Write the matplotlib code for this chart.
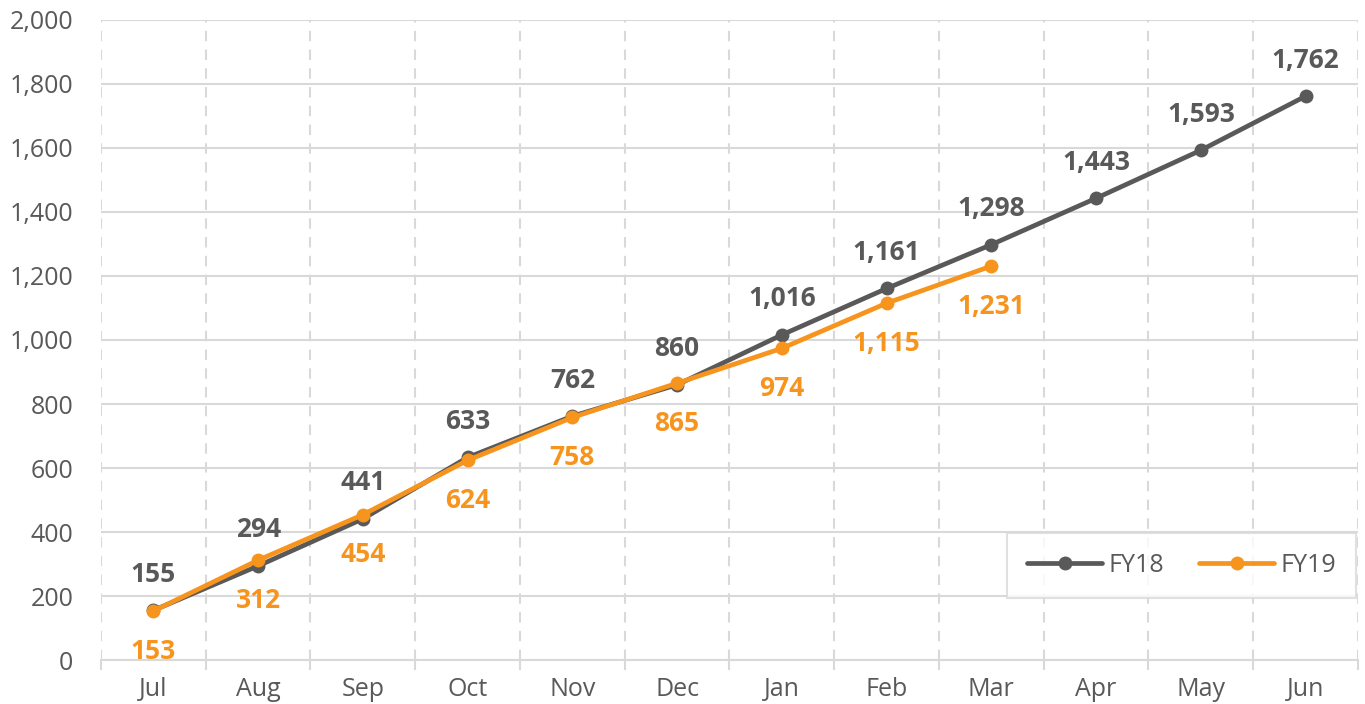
import matplotlib.pyplot as plt
import numpy as np
from matplotlib.ticker import FuncFormatter, MultipleLocator

months = ["Jul", "Aug", "Sep", "Oct", "Nov", "Dec", "Jan", "Feb", "Mar", "Apr", "May", "Jun"]
fy18 = [155, 294, 441, 633, 762, 860, 1016, 1161, 1298, 1443, 1593, 1762]
fy19 = [153, 312, 454, 624, 758, 865, 974, 1115, 1231]

grey = "#595959"
orange = "#F7941D"
grid_col = "#D9D9D9"

plt.rcParams['font.family'] = ['Open Sans', 'DejaVu Sans']

fig = plt.figure(figsize=(13.65, 7.04), dpi=100)
ax = fig.add_axes([101 / 1365, 44 / 704, 1257 / 1365, 640 / 704])

x18 = np.arange(len(fy18))
x19 = np.arange(len(fy19))

ax.plot(x18, fy18, color=grey, lw=3.4, marker="o", ms=9, label="FY18", zorder=3, solid_capstyle="round")
ax.plot(x19, fy19, color=orange, lw=3.4, marker="o", ms=9, label="FY19", zorder=4, solid_capstyle="round")

# подписи значений
for xi, v in zip(x18, fy18):
    ax.annotate(f"{v:,}", (xi, v), xytext=(0, 26), textcoords="offset points",
                ha="center", va="center", fontsize=19, fontweight="bold", color=grey)
for xi, v in zip(x19, fy19):
    ax.annotate(f"{v:,}", (xi, v), xytext=(0, -29), textcoords="offset points",
                ha="center", va="center", fontsize=19, fontweight="bold", color=orange)

ax.set_xlim(-0.5, len(months) - 0.5)
ax.set_ylim(0, 2000)
ax.yaxis.set_major_locator(MultipleLocator(200))
ax.yaxis.set_major_formatter(FuncFormatter(lambda v, p: f"{int(v):,}"))

ax.set_xticks(x18)
ax.set_xticklabels(months)
ax.set_xticks(np.arange(-0.5, len(months)), minor=True)

ax.grid(axis="y", which="major", color=grid_col, lw=1.5, ls="-")
ax.grid(axis="x", which="minor", color=grid_col, lw=1.5, ls=(0, (5, 4)))
ax.set_axisbelow(True)

for s in ["left", "right", "top"]:
    ax.spines[s].set_visible(False)
ax.spines["bottom"].set_color(grid_col)
ax.spines["bottom"].set_linewidth(1.5)

ax.tick_params(axis="x", which="major", length=0, labelsize=18, labelcolor=grey, pad=12)
ax.tick_params(axis="x", which="minor", length=7, width=1.5, color=grid_col)
ax.tick_params(axis="y", length=0, labelsize=18, labelcolor=grey, pad=20)

leg = ax.legend(loc="lower right", bbox_to_anchor=(0.9985, 0.097), ncol=2, fontsize=18,
                frameon=True, fancybox=False, edgecolor=grid_col, handlelength=3.0,
                borderpad=0.8, columnspacing=1.4, handletextpad=0.25, borderaxespad=0)
leg.get_frame().set_linewidth(1.5)
for t in leg.get_texts():
    t.set_color(grey)

fig.savefig("out.png", dpi=100)
